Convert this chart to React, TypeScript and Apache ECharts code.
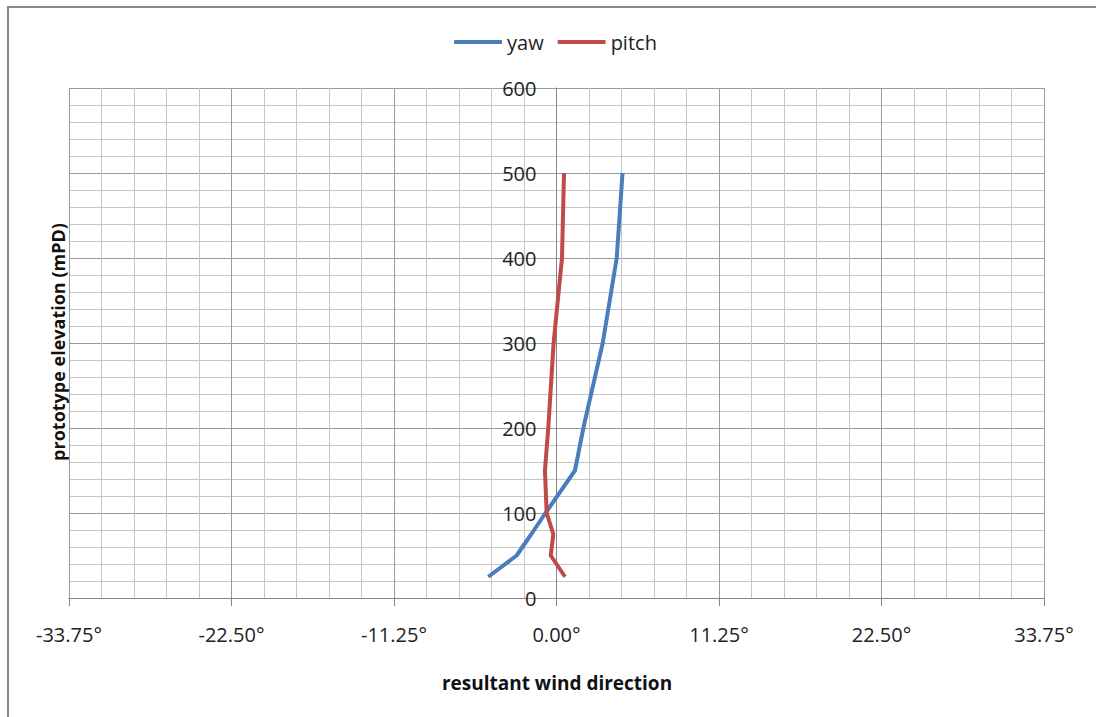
import React, { useEffect, useRef } from "react";
import * as echarts from "echarts";

const elevations = [25, 50, 75, 100, 150, 200, 300, 400, 500];
const yawValues = [-4.72, -2.76, -1.75, -0.76, 1.28, 1.86, 3.2, 4.17, 4.57];
const pitchValues = [0.59, -0.4, -0.22, -0.68, -0.8, -0.57, -0.2, 0.38, 0.52];
const seriesNames = ["yaw", "pitch"];
const seriesColors = ["#4A7EBB", "#BE4B48"];
const xTitle = "resultant wind direction";
const yTitle = "prototype elevation (mPD)";

const FONT = "'Open Sans', 'Noto Sans', sans-serif";

const GRID_LEFT = 69;
const GRID_RIGHT = 52;
const X_MIN = -33.75;
const X_MAX = 33.75;

export default function App() {
  const ref = useRef<HTMLDivElement>(null);
  useEffect(() => {
    if (!ref.current) return;
    const chart = echarts.init(ref.current, undefined, { renderer: "svg" });
    const pairs = (vals: number[]) => vals.map((v, i) => [v, elevations[i]]);
    const plotW = 1096 - GRID_LEFT - GRID_RIGHT;
    const zeroOffset = ((0 - X_MIN) / (X_MAX - X_MIN)) * plotW;
    chart.setOption({
      animation: false,
      backgroundColor: "#ffffff",
      textStyle: { fontFamily: FONT },
      grid: { left: GRID_LEFT, right: GRID_RIGHT, top: 88, bottom: 119, containLabel: false },
      legend: {
        left: 449,
        top: 27,
        itemWidth: 48,
        itemHeight: 4,
        itemGap: 14,
        icon: "roundRect",
        textStyle: { fontSize: 20, color: "#222", fontFamily: FONT },
        data: seriesNames,
      },
      xAxis: {
        type: "value",
        min: X_MIN,
        max: X_MAX,
        interval: 11.25,
        axisLine: { show: true, onZero: false, lineStyle: { color: "#868686", width: 1 } },
        axisTick: { show: true, length: 8, lineStyle: { color: "#868686" } },
        axisLabel: {
          fontSize: 20,
          color: "#222",
          margin: 26,
          fontFamily: FONT,
          formatter: (v: number) => (Math.abs(v) < 1e-9 ? "0.00" : v.toFixed(2)) + "°",
        },
        splitLine: { show: true, lineStyle: { color: "#9a9a9a", width: 1 } },
        minorTick: { show: false, splitNumber: 5 },
        minorSplitLine: { show: true, lineStyle: { color: "#c6c6c6", width: 1 } },
      },
      yAxis: {
        type: "value",
        min: 0,
        max: 600,
        interval: 100,
        offset: -zeroOffset,
        axisLine: { show: true, onZero: false, lineStyle: { color: "#868686", width: 1 } },
        axisTick: { show: false },
        axisLabel: { fontSize: 20, color: "#222", margin: 20, fontFamily: FONT },
        splitLine: { show: true, lineStyle: { color: "#9a9a9a", width: 1 } },
        minorTick: { show: false, splitNumber: 5 },
        minorSplitLine: { show: true, lineStyle: { color: "#c6c6c6", width: 1 } },
      },
      graphic: [
        {
          type: "rect",
          shape: { x: 8, y: 7, width: 1200, height: 800 },
          style: { fill: "none", stroke: "#888888", lineWidth: 2 },
          silent: true,
          z: 100,
        },
        {
          type: "text",
          x: 557,
          y: 683,
          style: {
            text: xTitle,
            fontSize: 19,
            fontWeight: "bold",
            fontFamily: FONT,
            fill: "#111",
            textAlign: "center",
            textVerticalAlign: "middle",
          },
        },
        {
          type: "text",
          x: 58,
          y: 342,
          rotation: Math.PI / 2,
          style: {
            text: yTitle,
            fontSize: 18,
            fontWeight: "bold",
            fontFamily: FONT,
            fill: "#111",
            textAlign: "center",
            textVerticalAlign: "middle",
          },
        },
      ],
      series: [
        {
          name: seriesNames[0],
          type: "line",
          data: pairs(yawValues),
          showSymbol: false,
          symbol: "none",
          lineStyle: { color: seriesColors[0], width: 4 },
          itemStyle: { color: seriesColors[0] },
          z: 5,
        },
        {
          name: seriesNames[1],
          type: "line",
          data: pairs(pitchValues),
          showSymbol: false,
          symbol: "none",
          lineStyle: { color: seriesColors[1], width: 4 },
          itemStyle: { color: seriesColors[1] },
          z: 6,
        },
      ],
    });
    return () => chart.dispose();
  }, []);
  return (
    <div
      ref={ref}
      style={{ position: "fixed", left: 0, top: 0, width: 1096, height: 717, background: "#fff" }}
    />
  );
}
